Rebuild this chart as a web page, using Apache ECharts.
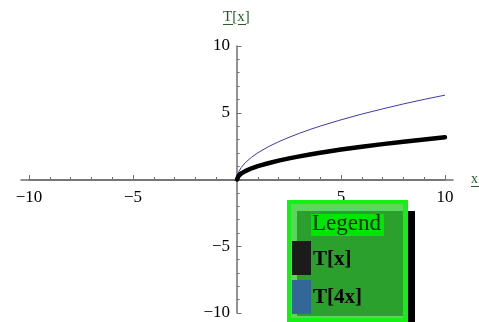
<!DOCTYPE html>
<html>
<head>
<meta charset="utf-8">
<script src="https://cdn.jsdelivr.net/npm/echarts@6/dist/echarts.min.js"></script>
<style>
  html, body { margin: 0; padding: 0; background: #fff; }
  #chart { width: 479px; height: 322px; }
</style>
</head>
<body>
<div id="chart"></div>
<script>
// values
const xs = [0, 0.02, 0.08, 0.2, 0.4, 0.7, 1, 1.5, 2, 2.5, 3, 3.5, 4, 5, 6, 7, 8, 9, 10];
const tx = [0, 0.14, 0.28, 0.45, 0.63, 0.84, 1.0, 1.22, 1.41, 1.58, 1.73, 1.87, 2.0, 2.24, 2.45, 2.65, 2.83, 3.0, 3.16];
const t4x = [0, 0.28, 0.57, 0.89, 1.26, 1.67, 2.0, 2.45, 2.83, 3.16, 3.46, 3.74, 4.0, 4.47, 4.9, 5.29, 5.66, 6.0, 6.32];
const seriesNames = ['T[x]', 'T[4x]'];
const seriesColors = ['#000000', '#3b3ba8'];
const swatchColors = ['#1b1b1b', '#336699'];

const serif = '"Liberation Serif", "DejaVu Serif", serif';
const axisGray = '#6f6f6f';
const nameGreen = '#285c28';

const chart = echarts.init(document.getElementById('chart'), null, { renderer: 'canvas' });

const fmt = v => (v === 0 ? '' : String(v).replace('-', '\u2212'));
const hidden = {
  axisLine: { show: false }, axisTick: { show: false },
  axisLabel: { show: false }, splitLine: { show: false }
};
const tickStyle = { color: axisGray, width: 1 };

const option = {
  animation: false,
  grid: [
    // data area
    { left: 29, right: 34, top: 46, bottom: 9, outerBoundsMode: 'none' },
    // horizontal axis, bottom edge on y = 0
    { left: 29, right: 34, top: 46, height: 133.5, outerBoundsMode: 'none' },
    // longer horizontal axis line
    { left: 21, right: 26, top: 46, height: 133.5, outerBoundsMode: 'none' },
    // vertical axis, left edge on x = 0
    { left: 237, right: 34, top: 46, bottom: 9, outerBoundsMode: 'none' }
  ],
  xAxis: [
    Object.assign({ type: 'value', gridIndex: 0, min: -10, max: 10 }, hidden),
    {
      type: 'value', gridIndex: 1, min: -10, max: 10, interval: 5, position: 'bottom',
      axisLine: { onZero: false, lineStyle: { color: axisGray, width: 1.5 } },
      axisTick: { inside: true, length: 4.5, lineStyle: tickStyle },
      minorTick: { show: true, splitNumber: 5, length: 2.5, lineStyle: tickStyle },
      axisLabel: { formatter: fmt, margin: 10, color: '#000', fontFamily: serif, fontSize: 17 },
      splitLine: { show: false }
    },
    {
      type: 'value', gridIndex: 2, min: -1, max: 1, position: 'bottom',
      axisLine: { onZero: false, lineStyle: { color: axisGray, width: 1.5 } },
      axisTick: { show: false }, axisLabel: { show: false }, splitLine: { show: false }
    },
    Object.assign({ type: 'value', gridIndex: 3, min: 0, max: 1 }, hidden)
  ],
  yAxis: [
    Object.assign({ type: 'value', gridIndex: 0, min: -10, max: 10 }, hidden),
    Object.assign({ type: 'value', gridIndex: 1, min: 0, max: 1 }, hidden),
    Object.assign({ type: 'value', gridIndex: 2, min: 0, max: 1 }, hidden),
    {
      type: 'value', gridIndex: 3, min: -10, max: 10, interval: 5, position: 'left',
      axisLine: { onZero: false, lineStyle: { color: axisGray, width: 1.5 } },
      axisTick: { inside: true, length: 4.5, lineStyle: tickStyle },
      minorTick: { show: true, splitNumber: 5, length: 2.5, lineStyle: tickStyle },
      axisLabel: { formatter: fmt, margin: 7, color: '#000', fontFamily: serif, fontSize: 17 },
      splitLine: { show: false }
    }
  ],
  series: [
    {
      name: seriesNames[0], type: 'line', xAxisIndex: 0, yAxisIndex: 0,
      data: xs.map((x, i) => [x, tx[i]]),
      showSymbol: false, z: 3,
      lineStyle: { color: seriesColors[0], width: 4.5, cap: 'round', join: 'round' }
    },
    {
      name: seriesNames[1], type: 'line', xAxisIndex: 0, yAxisIndex: 0,
      data: xs.map((x, i) => [x, t4x[i]]),
      showSymbol: false, z: 2,
      lineStyle: { color: seriesColors[1], width: 1 }
    }
  ],
  graphic: [
    // axis names, underlined
    { type: 'text', left: 223, top: 10, z: 50,
      style: { text: 'T[x]', font: '15px ' + serif, fill: nameGreen } },
    { type: 'line', z: 50, shape: { x1: 223, y1: 24.5, x2: 233, y2: 24.5 }, style: { stroke: nameGreen, lineWidth: 1 } },
    { type: 'line', z: 50, shape: { x1: 238, y1: 24.5, x2: 246, y2: 24.5 }, style: { stroke: nameGreen, lineWidth: 1 } },
    { type: 'text', left: 471, top: 172, z: 50,
      style: { text: 'x', font: '14px ' + serif, fill: nameGreen } },
    { type: 'line', z: 50, shape: { x1: 471, y1: 186.5, x2: 479, y2: 186.5 }, style: { stroke: nameGreen, lineWidth: 1 } },

    // legend panel
    { type: 'rect', z: 100, shape: { x: 408, y: 211, width: 7, height: 111 }, style: { fill: '#000' } },
    { type: 'rect', z: 100, shape: { x: 287, y: 200, width: 121, height: 122 }, style: { fill: '#14f014' } },
    { type: 'rect', z: 101, shape: { x: 291, y: 204, width: 112, height: 114 }, style: { fill: '#5dd65d' } },
    { type: 'rect', z: 102, shape: { x: 297, y: 211, width: 106, height: 105 }, style: { fill: '#2ca02c' } },
    { type: 'rect', z: 103, shape: { x: 311, y: 214, width: 73, height: 22 }, style: { fill: '#00e600' } },
    { type: 'text', z: 104, left: 312, top: 212,
      style: { text: 'Legend', font: '23px ' + serif, fill: '#0d2a0d' } },
    { type: 'rect', z: 103, shape: { x: 292, y: 241, width: 19, height: 34 }, style: { fill: swatchColors[0] } },
    { type: 'rect', z: 103, shape: { x: 292, y: 280, width: 19, height: 34 }, style: { fill: swatchColors[1] } },
    { type: 'text', z: 104, left: 313, top: 249,
      style: { text: seriesNames[0], font: 'bold 21px ' + serif, fill: '#000' } },
    { type: 'text', z: 104, left: 313, top: 287,
      style: { text: seriesNames[1], font: 'bold 21px ' + serif, fill: '#000' } }
  ]
};

chart.setOption(option);
window.addEventListener('resize', () => chart.resize());
</script>
</body>
</html>
